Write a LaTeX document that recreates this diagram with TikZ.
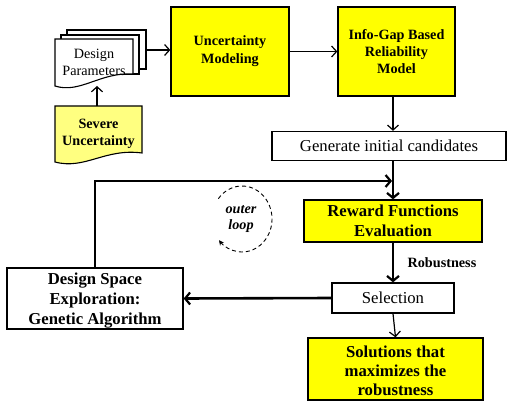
\documentclass[tikz,border=0pt]{standalone}
\usepackage{fontspec}
\setmainfont{Liberation Serif}
\usetikzlibrary{arrows.meta,calc}
\definecolor{boxyellow}{RGB}{255,255,0}
\definecolor{paleyellow}{RGB}{255,255,128}
\begin{document}
\begin{tikzpicture}[x=1pt,y=-1pt,
  small/.style={font=\fontsize{14.2}{17}\selectfont},
  large/.style={font=\fontsize{16.7}{20}\selectfont},
  box/.style={draw=black, line width=1.3pt, align=center, inner sep=0pt},
  boldtext/.style={font=\fontsize{16.7}{#1}\selectfont\bfseries, align=center},
  sheet/.style={draw=black, line width=1.1pt, fill=white},
  thinarrow/.style={draw=black, line width=1.2pt, -{Straight Barb[length=5pt,width=11pt,line width=1.2pt]}},
  thickarrow/.style={draw=black, line width=2.6pt, -{Straight Barb[length=5pt,width=12pt,line width=2.2pt]}},
  thickline/.style={draw=black, line width=2.6pt}
]
\useasboundingbox (0,0) rectangle (510,403);

% stacked design-parameter sheets
\draw[sheet] (67,30) rectangle (146,69);
\draw[sheet] (61,35) rectangle (139,74);
\draw[sheet] (55,39) -- (133,39) -- (133,74)
  .. controls (100,72) and (80,94) .. (55,86) -- cycle;
\node[small, align=center] (dp) at (94,62) {Design\\Parameters};
\coordinate (stackright) at (146,50);

% severe uncertainty document
\draw[sheet, fill=paleyellow] (55,106) -- (142,106) -- (142,153)
  .. controls (105,148) and (85,170) .. (55,162) -- cycle;
\node[font=\fontsize{14.2}{17}\selectfont\bfseries, align=center] (sev) at (98.5,134) {Severe\\Uncertainty};
\coordinate (sevtop) at (97,106);
\coordinate (dpbottom) at (97,86);

% main boxes
\node[box, fill=boxyellow, font=\fontsize{14.2}{18}\selectfont\bfseries,
  minimum width=118, minimum height=89] (um) at (230,51.5) {Uncertainty\\Modeling};
\node[box, fill=boxyellow, font=\fontsize{14.2}{17}\selectfont\bfseries,
  minimum width=117, minimum height=89] (ig) at (396.5,51.5) {Info-Gap Based\\Reliability\\Model};
\node[box, fill=white, large, minimum width=234, minimum height=29] (gen) at (389,146) {Generate initial candidates};
\node[box, fill=boxyellow, boldtext=20,
  minimum width=178, minimum height=42] (rw) at (393,221) {Reward Functions\\Evaluation};
\node[box, fill=white, large, minimum width=122, minimum height=30] (sel) at (393,298) {Selection};
\node[box, fill=boxyellow, minimum width=175, minimum height=62] (sol) at (395.5,369) {};
\node[boldtext=19] (soltext) at (395.5,371) {Solutions that\\maximizes the\\robustness};
\node[box, fill=white, minimum width=176, minimum height=61] (ds) at (95,298.5) {};
\node[boldtext=20] (dstext) at (95,301) {Design Space\\Exploration:\\Genetic Algorithm};

% outer loop marker
\node[font=\fontsize{14.2}{16}\selectfont\bfseries\itshape, align=center] (loop) at (241,219) {outer\\loop};
\draw[line width=0.9pt, dash pattern=on 4pt off 3pt, -{Stealth[length=5pt,width=5pt]}]
  ([shift={(-142:30 and 33)}]242,219) arc[start angle=-142, end angle=140, x radius=30, y radius=33];

% connectors
\draw[thinarrow] (stackright) -- (stackright -| um.west);
\draw[thinarrow] (sevtop) -- (dpbottom);
\draw[thinarrow] (um.east) -- (ig.west);
\coordinate (spine) at (393,0);
\draw[thinarrow] (ig.south -| spine) -- (gen.north -| spine);
\draw[thickarrow] (gen.south -| spine) -- (rw.north);
\coordinate (join) at (392,181);
\draw[thickline, -{Straight Barb[length=5pt,width=12pt,line width=2.2pt]}] (ds.north) |- (join);
\draw[thickarrow] (rw.south) -- node[right, xshift=10pt, font=\fontsize{14.2}{17}\selectfont\bfseries] (rob) {Robustness} (sel.north);
\draw[thickarrow] (sel.west) -- (ds.east);
\draw[thinarrow] (sel.south) -- (sol.north);
\end{tikzpicture}
\end{document}
